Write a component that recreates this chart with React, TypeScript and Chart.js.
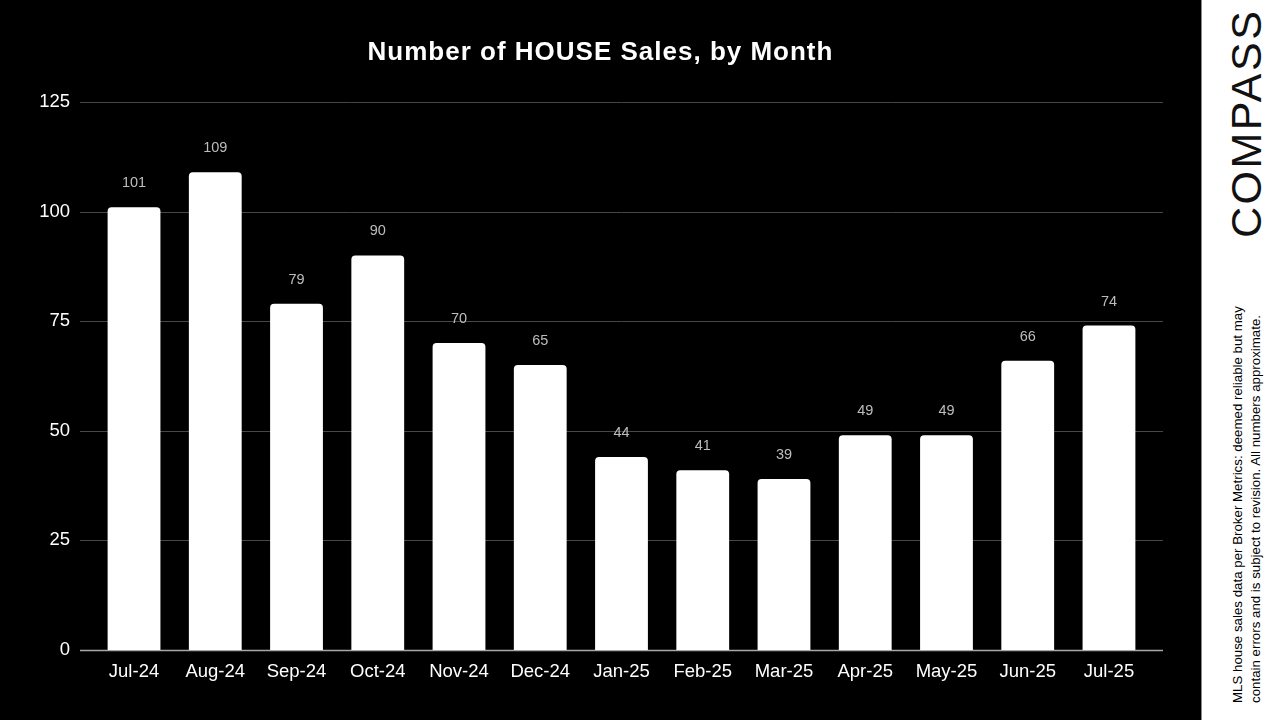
import React, { useEffect, useRef } from "react";
import { Chart, registerables } from "chart.js";

Chart.register(...registerables);

const months = ["Jul-24", "Aug-24", "Sep-24", "Oct-24", "Nov-24", "Dec-24", "Jan-25", "Feb-25", "Mar-25", "Apr-25", "May-25", "Jun-25", "Jul-25"];
const sales = [101, 109, 79, 90, 70, 65, 44, 41, 39, 49, 49, 66, 74];
const yTicks = [0, 25, 50, 75, 100, 125];
const titleText = "Number of HOUSE Sales, by Month";
const disclaimerLines = [
  "MLS house sales data per Broker Metrics: deemed reliable but may",
  "contain errors and is subject to revision. All numbers approximate.",
];

const FONT = "'Liberation Sans', Arial, sans-serif";

const gridPlugin = {
  id: "extGrid",
  beforeDatasetsDraw(chart: any) {
    const { ctx } = chart;
    const y = chart.scales.y;
    ctx.save();
    yTicks.forEach((v) => {
      const py = Math.round(y.getPixelForValue(v)) + 0.5;
      ctx.strokeStyle = v === 0 ? "#a8a8a8" : "#474747";
      ctx.lineWidth = v === 0 ? 1.5 : 1;
      ctx.beginPath();
      ctx.moveTo(80, py);
      ctx.lineTo(1163, py);
      ctx.stroke();
    });
    ctx.restore();
  },
};

const labelPlugin = {
  id: "valLabels",
  afterDatasetsDraw(chart: any) {
    const { ctx } = chart;
    const meta = chart.getDatasetMeta(0);
    ctx.save();
    ctx.fillStyle = "#bdbdbd";
    ctx.font = `14.5px ${FONT}`;
    ctx.textAlign = "center";
    ctx.textBaseline = "middle";
    meta.data.forEach((el: any, i: number) => {
      ctx.fillText(String(sales[i]), el.x, el.y - 24);
    });
    ctx.restore();
  },
};

const titlePlugin = {
  id: "centeredTitle",
  afterDraw(chart: any) {
    const { ctx } = chart;
    ctx.save();
    ctx.fillStyle = "#ffffff";
    ctx.font = `bold 26px ${FONT}`;
    try {
      (ctx as any).letterSpacing = "1px";
    } catch (e) {}
    ctx.textAlign = "center";
    ctx.textBaseline = "alphabetic";
    ctx.fillText(titleText, 600.5, 59.5);
    try {
      (ctx as any).letterSpacing = "0px";
    } catch (e) {}
    ctx.restore();
  },
};

export default function App() {
  const canvasRef = useRef<HTMLCanvasElement | null>(null);

  useEffect(() => {
    if (!canvasRef.current) return;
    const chart = new Chart(canvasRef.current, {
      type: "bar",
      data: {
        labels: months,
        datasets: [
          {
            data: sales,
            backgroundColor: "#ffffff",
            borderRadius: { topLeft: 4, topRight: 4, bottomLeft: 0, bottomRight: 0 },
            borderSkipped: false,
            barPercentage: 0.65,
            categoryPercentage: 1,
          },
        ],
      },
      options: {
        animation: false,
        responsive: true,
        maintainAspectRatio: false,
        layout: { padding: { left: 0, right: 51.4, top: 102, bottom: 0 } },
        plugins: {
          legend: { display: false },
          tooltip: { enabled: false },
          title: { display: false },
        },
        scales: {
          x: {
            offset: true,
            grid: { display: false, drawTicks: false },
            border: { display: false },
            ticks: { color: "#ffffff", font: { family: FONT, size: 18.5 }, padding: 10.5, maxRotation: 0, autoSkip: false },
            afterFit: (s: any) => {
              s.height = 70;
            },
          },
          y: {
            min: 0,
            max: 125,
            grid: { display: false, drawTicks: false },
            border: { display: false },
            ticks: { stepSize: 25, color: "#ffffff", font: { family: FONT, size: 18.5 }, padding: 23.4 },
            afterFit: (s: any) => {
              s.width = 93.4;
            },
          },
        },
      },
      plugins: [gridPlugin, labelPlugin, titlePlugin],
    } as any);
    return () => chart.destroy();
  }, []);

  return (
    <div style={{ position: "fixed", left: 0, top: 0, width: 1280, height: 720, background: "#ffffff", overflow: "hidden" }}>
      <div style={{ position: "absolute", left: 0, top: 0, width: 1201, height: 720, background: "#000000" }}>
        <canvas ref={canvasRef} />
      </div>
      <div style={{ position: "absolute", left: 1201, top: 0, width: 1, height: 720, background: "#8a8a8a" }} />
      <div
        style={{
          position: "absolute",
          left: 1224.3,
          top: 238,
          width: 240,
          height: 44,
          transformOrigin: "0 0",
          transform: "rotate(-90deg)",
          fontFamily: FONT,
          fontSize: 43,
          lineHeight: "44px",
          letterSpacing: 2.5,
          color: "#111111",
          whiteSpace: "nowrap",
        }}
      >
        COMPASS
      </div>
      <div
        style={{
          position: "absolute",
          left: 1229,
          top: 703,
          width: 430,
          height: 36,
          transformOrigin: "0 0",
          transform: "rotate(-90deg)",
          fontFamily: FONT,
          fontSize: 13.3,
          lineHeight: "18px",
          color: "#000000",
          whiteSpace: "nowrap",
        }}
      >
        {disclaimerLines[0]}
        <br />
        {disclaimerLines[1]}
      </div>
    </div>
  );
}
